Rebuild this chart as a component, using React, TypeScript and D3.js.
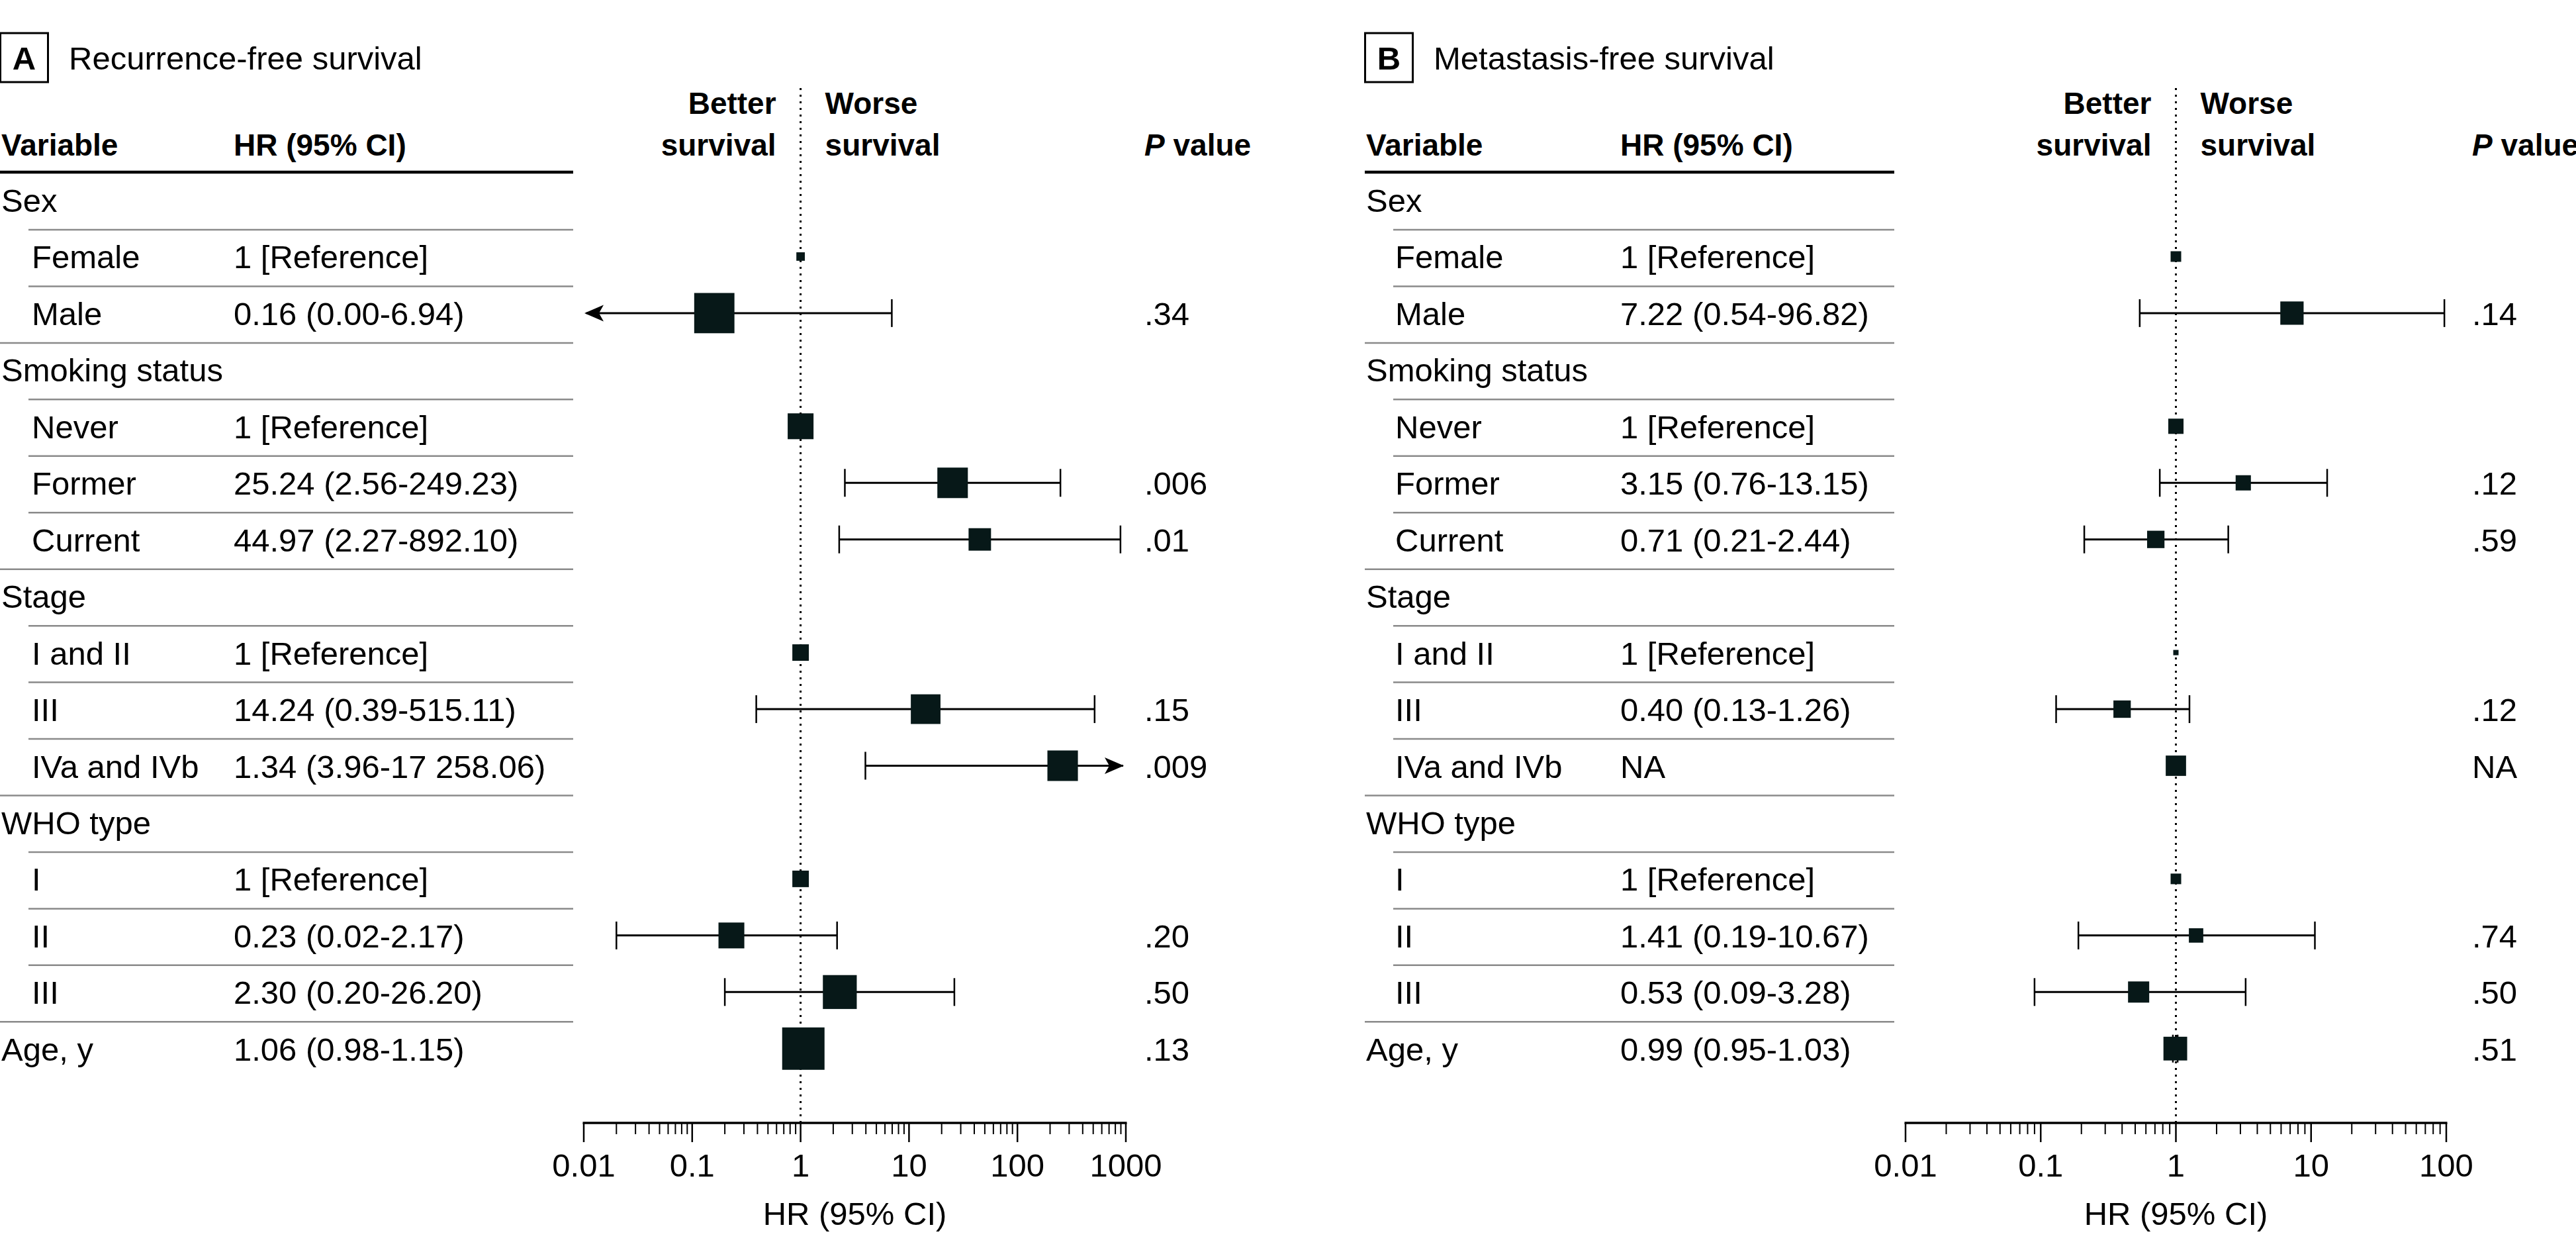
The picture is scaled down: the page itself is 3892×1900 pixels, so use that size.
import React from "react";
import * as d3 from "d3";

// Row labels shared by both panels
const rowLabels = [
  "Sex", "Female", "Male",
  "Smoking status", "Never", "Former", "Current",
  "Stage", "I and II", "III", "IVa and IVb",
  "WHO type", "I", "II", "III",
  "Age, y",
];
const rowIsSub = [false, true, true, false, true, true, true, false, true, true, true, false, true, true, true, false];

// Panel A: recurrence-free survival
const hrA = [null, 1, 0.16, null, 1, 25.24, 44.97, null, 1, 14.24, 261.34, null, 1, 0.23, 2.3, 1.06];
const lowA = [null, 1, 0, null, 1, 2.56, 2.27, null, 1, 0.39, 3.96, null, 1, 0.02, 0.2, 0.98];
const highA = [null, 1, 6.94, null, 1, 249.23, 892.1, null, 1, 515.11, 17258.06, null, 1, 2.17, 26.2, 1.15];
const weightA = [0, 0.2, 0.95, 0, 0.61, 0.72, 0.53, 0, 0.39, 0.7, 0.72, 0, 0.39, 0.61, 0.8, 1.0];
const hrTextA = ["", "1 [Reference]", "0.16 (0.00-6.94)", "", "1 [Reference]", "25.24 (2.56-249.23)", "44.97 (2.27-892.10)", "", "1 [Reference]", "14.24 (0.39-515.11)", "1.34 (3.96-17 258.06)", "", "1 [Reference]", "0.23 (0.02-2.17)", "2.30 (0.20-26.20)", "1.06 (0.98-1.15)"];
const pA = ["", "", ".34", "", "", ".006", ".01", "", "", ".15", ".009", "", "", ".20", ".50", ".13"];
const ticksA = [0.01, 0.1, 1, 10, 100, 1000];

// Panel B: metastasis-free survival
const hrB = [null, 1, 7.22, null, 1, 3.15, 0.71, null, 1, 0.4, 1, null, 1, 1.41, 0.53, 0.99];
const lowB = [null, 1, 0.54, null, 1, 0.76, 0.21, null, 1, 0.13, 1, null, 1, 0.19, 0.09, 0.95];
const highB = [null, 1, 96.82, null, 1, 13.15, 2.44, null, 1, 1.26, 1, null, 1, 10.67, 3.28, 1.03];
const weightB = [0, 0.25, 0.55, 0, 0.36, 0.36, 0.41, 0, 0.125, 0.41, 0.48, 0, 0.25, 0.34, 0.5, 0.56];
const hrTextB = ["", "1 [Reference]", "7.22 (0.54-96.82)", "", "1 [Reference]", "3.15 (0.76-13.15)", "0.71 (0.21-2.44)", "", "1 [Reference]", "0.40 (0.13-1.26)", "NA", "", "1 [Reference]", "1.41 (0.19-10.67)", "0.53 (0.09-3.28)", "0.99 (0.95-1.03)"];
const pB = ["", "", ".14", "", "", ".12", ".59", "", "", ".12", "NA", "", "", ".74", ".50", ".51"];
const ticksB = [0.01, 0.1, 1, 10, 100];

const W = 3892;
const H = 1900;
const FONT = "'Liberation Sans', Arial, sans-serif";
const FS = 49;
const FS_HEAD = 46;
const INK = "#071818";

const rowY = d3.scaleLinear().domain([0, 1]).range([320, 405.45]);
const boxSize = d3.scaleLinear().domain([0, 1]).range([0, 64]);

interface PanelProps {
  letter: string;
  title: string;
  x0: number;
  subX: number;
  hrX: number;
  indentX: number;
  lineEnd: number;
  axisRange: [number, number];
  ticks: number[];
  pX: number;
  hr: (number | null)[];
  low: (number | null)[];
  high: (number | null)[];
  weight: number[];
  hrText: string[];
  pText: string[];
}

const Panel: React.FC<PanelProps> = (p) => {
  const dom = [p.ticks[0], p.ticks[p.ticks.length - 1]];
  const x = d3.scaleLog().domain(dom).range(p.axisRange);
  const x1 = x(1);
  const axisY = 1696;
  const minor: number[] = [];
  for (let i = 0; i < p.ticks.length - 1; i++) {
    for (let k = 2; k <= 9; k++) minor.push(p.ticks[i] * k);
  }
  const arrowLeft = (tx: number, y: number) =>
    `M${tx},${y} L${tx + 29},${y - 12.5} L${tx + 22},${y} L${tx + 29},${y + 12.5} Z`;
  const arrowRight = (tx: number, y: number) =>
    `M${tx},${y} L${tx - 29},${y - 12.5} L${tx - 22},${y} L${tx - 29},${y + 12.5} Z`;

  return (
    <g fontFamily={FONT} fontSize={FS} fill="#000">
      {/* panel letter and title */}
      <rect x={p.x0 - 1.5} y={50} width={72} height={74} fill="none" stroke="#000" strokeWidth={3} />
      <text x={p.x0 + 34.5} y={105} textAnchor="middle" fontWeight="bold">{p.letter}</text>
      <text x={p.x0 + 102} y={105}>{p.title}</text>

      {/* column headers */}
      <g fontWeight="bold" fontSize={FS_HEAD}>
        <text x={p.x0} y={235}>Variable</text>
        <text x={p.hrX} y={235}>HR (95% CI)</text>
        <text x={x1 - 37} y={172} textAnchor="end">Better</text>
        <text x={x1 - 37} y={235} textAnchor="end">survival</text>
        <text x={x1 + 37} y={172}>Worse</text>
        <text x={x1 + 37} y={235}>survival</text>
        <text x={p.pX} y={235}>
          <tspan fontStyle="italic">P</tspan> value
        </text>
      </g>
      <line x1={p.x0 - 2} x2={p.lineEnd} y1={260} y2={260} stroke="#000" strokeWidth={4.5} />

      {/* table rows */}
      {rowLabels.map((lab, i) => (
        <g key={i}>
          <text x={rowIsSub[i] ? p.subX : p.x0} y={rowY(i)}>{lab}</text>
          <text x={p.hrX} y={rowY(i)}>{p.hrText[i]}</text>
          <text x={p.pX} y={rowY(i)}>{p.pText[i]}</text>
          {i < rowLabels.length - 1 && (
            <line
              x1={rowIsSub[i + 1] ? p.indentX : p.x0 - 2}
              x2={p.lineEnd}
              y1={rowY(i) + 27}
              y2={rowY(i) + 27}
              stroke="#8a8a8a"
              strokeWidth={2.5}
            />
          )}
        </g>
      ))}

      {/* reference line */}
      <line x1={x1} x2={x1} y1={133} y2={axisY} stroke="#000" strokeWidth={3} strokeDasharray="3 7" />

      {/* estimates */}
      {rowLabels.map((_, i) => {
        const hr = p.hr[i];
        if (hr == null) return null;
        const cy = rowY(i) - 18;
        const lo = p.low[i] as number;
        const hi = p.high[i] as number;
        const loClip = lo < dom[0];
        const hiClip = hi > dom[1];
        const xl = loClip ? p.axisRange[0] + 4 : x(lo);
        const xh = hiClip ? p.axisRange[1] - 4 : x(hi);
        const s = boxSize(p.weight[i]);
        return (
          <g key={"m" + i}>
            {lo !== hi && (
              <>
                <line x1={xl} x2={xh} y1={cy} y2={cy} stroke="#000" strokeWidth={3} />
                {!loClip && <line x1={xl} x2={xl} y1={cy - 21} y2={cy + 21} stroke="#000" strokeWidth={2.5} />}
                {!hiClip && <line x1={xh} x2={xh} y1={cy - 21} y2={cy + 21} stroke="#000" strokeWidth={2.5} />}
                {loClip && <path d={arrowLeft(p.axisRange[0] + 1, cy)} fill="#000" />}
                {hiClip && <path d={arrowRight(p.axisRange[1] - 3, cy)} fill="#000" />}
              </>
            )}
            <rect x={x(hr) - s / 2} y={cy - s / 2} width={s} height={s} fill={INK} />
          </g>
        );
      })}

      {/* axis */}
      <line x1={p.axisRange[0] - 1.5} x2={p.axisRange[1] + 1.5} y1={axisY} y2={axisY} stroke="#000" strokeWidth={3.5} />
      {minor.map((v, i) => (
        <line key={"n" + i} x1={x(v)} x2={x(v)} y1={axisY} y2={axisY + 17} stroke="#000" strokeWidth={2} />
      ))}
      {p.ticks.map((v, i) => (
        <g key={"t" + i}>
          <line x1={x(v)} x2={x(v)} y1={axisY} y2={axisY + 29} stroke="#000" strokeWidth={2.5} />
          <text x={x(v)} y={1777} textAnchor="middle">{String(v)}</text>
        </g>
      ))}
      <text x={(p.axisRange[0] + p.axisRange[1]) / 2} y={1850} textAnchor="middle">HR (95% CI)</text>
    </g>
  );
};

export default function App() {
  return (
    <svg
      width={W}
      height={H}
      viewBox={`0 0 ${W} ${H}`}
      style={{ position: "absolute", left: 0, top: 0, background: "#fff" }}
    >
      <rect width={W} height={H} fill="#fff" />
      <Panel
        letter="A"
        title="Recurrence-free survival"
        x0={2}
        subX={48}
        hrX={353}
        indentX={43}
        lineEnd={866}
        axisRange={[882, 1701]}
        ticks={ticksA}
        pX={1729}
        hr={hrA}
        low={lowA}
        high={highA}
        weight={weightA}
        hrText={hrTextA}
        pText={pA}
      />
      <Panel
        letter="B"
        title="Metastasis-free survival"
        x0={2064}
        subX={2108}
        hrX={2448}
        indentX={2105}
        lineEnd={2862}
        axisRange={[2879, 3696]}
        ticks={ticksB}
        pX={3735}
        hr={hrB}
        low={lowB}
        high={highB}
        weight={weightB}
        hrText={hrTextB}
        pText={pB}
      />
    </svg>
  );
}
